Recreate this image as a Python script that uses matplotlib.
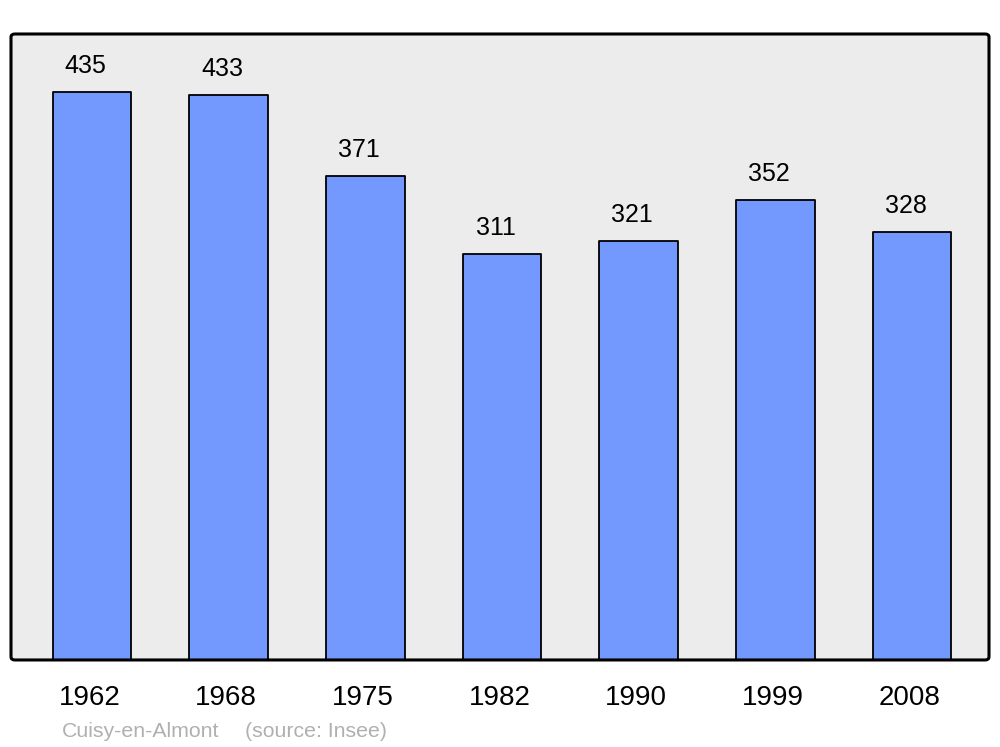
import matplotlib.pyplot as plt
from matplotlib.patches import FancyBboxPatch

years = ['1962', '1968', '1975', '1982', '1990', '1999', '2008']
population = [435, 433, 371, 311, 321, 352, 328]
town = 'Cuisy-en-Almont'
source = '(source: Insee)'

plt.rcParams['font.family'] = ['Liberation Sans', 'DejaVu Sans']

fig = plt.figure(figsize=(10, 7.47), dpi=100)
ax = fig.add_axes([0.011, 0.1165, 0.978, 0.838])
ax.set_facecolor('#ececec')

x = range(len(years))
bars = ax.bar(x, population, width=0.575, color='#7399ff', edgecolor='black',
              linewidth=1.3, zorder=2)
for b in bars:
    b.set_joinstyle('round')

for i, v in enumerate(population):
    # labels in the original sit a little left of the bar centres
    ax.annotate(str(v), xy=(i, v), xytext=(-4.7, 13.7), textcoords='offset points',
                ha='center', va='baseline', fontsize=18)
    ax.annotate(years[i], xy=(i, 0), xycoords=('data', 'axes fraction'),
                xytext=(-1.8, -32.4), textcoords='offset points',
                ha='center', va='baseline', fontsize=20)

ax.set_xlim(-0.593, 6.563)
ax.set_ylim(0, 479.5)
ax.set_xticks([])
ax.set_yticks([])
for s in ax.spines.values():
    s.set_visible(False)

# rounded frame around the plot area
frame = FancyBboxPatch((0.011, 0.1165), 0.978, 0.838, boxstyle='round,pad=0,rounding_size=0.004',
                       transform=fig.transFigure, facecolor='none', edgecolor='black',
                       linewidth=2.2, zorder=5)
fig.patches.append(frame)

fig.text(0.062, 1 - 737 / 747, town, fontsize=15.3, color='#b0b0b0', va='baseline')
fig.text(0.245, 1 - 737 / 747, source, fontsize=15.3, color='#b0b0b0', va='baseline')

fig.savefig('out.png', dpi=100)
